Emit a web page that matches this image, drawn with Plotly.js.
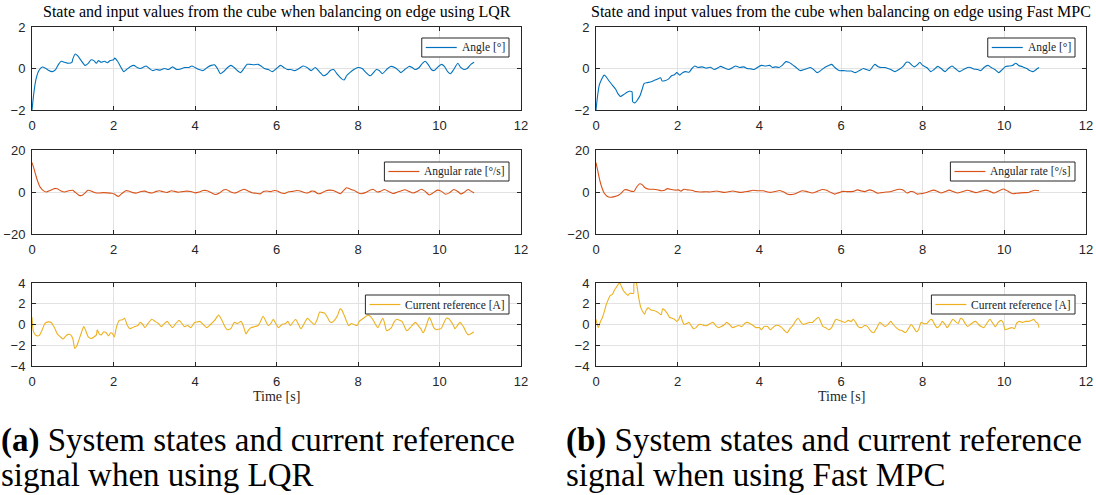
<!DOCTYPE html>
<html>
<head>
<meta charset="utf-8">
<script src="https://cdn.plot.ly/plotly-3.0.1.min.js"></script>
<style>
  html, body { margin: 0; padding: 0; background: #ffffff; }
  #chart { width: 1096px; height: 495px; }
</style>
</head>
<body>
<div id="chart"></div>
<script>
// Logged cube data while balancing on an edge: [time (s), value] samples.

// LQR controller
const lqrAngle = [
  [0,-2.0],[0.05,-1.1],[0.1,-0.5],[0.17,-0.1],[0.25,0.07],[0.32,0.03],[0.4,-0.08],[0.5,-0.15],
  [0.58,-0.05],[0.65,0.2],[0.72,0.35],[0.8,0.3],[0.9,0.25],[0.98,0.3],[1.0,0.45],[1.06,0.7],
  [1.12,0.62],[1.2,0.4],[1.3,0.15],[1.38,0.25],[1.45,0.42],[1.52,0.38],[1.58,0.25],[1.63,0.38],
  [1.7,0.3],[1.78,0.35],[1.85,0.28],[1.92,0.38],[2.0,0.42],[2.03,0.5],[2.1,0.35],[2.17,0.1],
  [2.25,-0.15],[2.32,-0.05],[2.42,0.1],[2.5,0.15],[2.58,0.05],[2.66,0.0],[2.72,0.05],[2.8,0.12],
  [2.88,0.0],[2.96,-0.1],[3.05,-0.05],[3.15,-0.08],[3.25,0.0],[3.35,-0.05],[3.45,0.08],[3.55,-0.05],
  [3.65,-0.02],[3.75,0.05],[3.85,0.05],[3.92,0.12],[4.0,0.05],[4.1,-0.05],[4.2,-0.1],[4.3,0.05],
  [4.4,0.15],[4.48,0.18],[4.55,0.0],[4.62,-0.25],[4.7,-0.15],[4.8,0.05],[4.88,0.15],[4.96,0.05],
  [5.05,-0.12],[5.12,-0.2],[5.2,0.0],[5.28,0.2],[5.35,0.2],[5.45,0.18],[5.55,0.2],[5.62,0.12],
  [5.7,0.0],[5.8,-0.05],[5.9,-0.15],[6.0,0.0],[6.1,0.15],[6.18,0.05],[6.27,-0.05],[6.35,-0.05],
  [6.45,-0.1],[6.55,0.0],[6.65,0.12],[6.75,0.05],[6.85,-0.1],[6.95,0.05],[7.05,-0.15],[7.15,-0.35],
  [7.25,-0.25],[7.32,-0.1],[7.4,-0.05],[7.5,-0.3],[7.6,-0.5],[7.66,-0.55],[7.72,-0.35],[7.8,-0.2],
  [7.9,-0.05],[8.0,0.05],[8.1,0.0],[8.2,-0.2],[8.3,-0.35],[8.38,-0.2],[8.45,-0.05],[8.52,-0.1],
  [8.6,-0.25],[8.7,-0.05],[8.8,0.1],[8.9,0.05],[9.0,-0.1],[9.05,-0.2],[9.15,-0.05],[9.25,0.1],
  [9.33,0.05],[9.4,-0.05],[9.5,0.05],[9.58,0.25],[9.65,0.35],[9.72,0.2],[9.8,-0.05],[9.87,-0.1],
  [9.95,0.05],[10.05,0.2],[10.12,0.1],[10.2,-0.15],[10.27,-0.25],[10.35,-0.05],[10.45,0.25],
  [10.52,0.05],[10.6,-0.05],[10.68,0.0],[10.77,0.2],[10.85,0.3]
];

const lqrRate = [
  [0,14],[0.05,11],[0.1,7.5],[0.15,4.5],[0.2,2.3],[0.27,0.8],[0.35,0.0],[0.45,0.8],[0.55,1.6],
  [0.62,1.5],[0.7,0.6],[0.8,0.0],[0.9,0.6],[1.0,0.8],[1.07,-0.3],[1.15,-1.5],[1.22,-1.7],[1.3,-0.5],
  [1.37,0.8],[1.45,0.5],[1.55,-0.4],[1.65,-0.5],[1.75,-0.3],[1.85,-0.4],[1.95,-0.6],[2.02,-1.0],
  [2.12,-2.1],[2.2,-0.8],[2.3,0.6],[2.37,0.5],[2.47,-0.3],[2.57,-0.5],[2.67,0.2],[2.77,0.4],
  [2.87,-0.3],[2.95,-0.5],[3.05,0.3],[3.13,0.6],[3.22,0.1],[3.32,-0.2],[3.42,0.6],[3.5,0.3],
  [3.6,-0.1],[3.7,0.2],[3.8,0.4],[3.9,0.2],[4.0,-0.4],[4.1,0.0],[4.2,0.7],[4.3,0.6],[4.4,-0.3],
  [4.5,-1.2],[4.6,-0.5],[4.7,1.0],[4.78,1.1],[4.88,0.0],[4.97,-0.5],[5.07,0.2],[5.2,1.3],[5.3,0.5],
  [5.4,-0.4],[5.5,-0.6],[5.6,-0.9],[5.68,0.2],[5.75,0.5],[5.85,0.2],[5.95,0.7],[6.02,0.5],
  [6.12,-0.5],[6.2,-0.7],[6.3,0.1],[6.4,0.3],[6.5,0.7],[6.58,0.5],[6.68,-0.2],[6.76,-0.5],
  [6.86,0.4],[6.93,0.3],[7.02,-0.8],[7.1,-0.6],[7.2,0.5],[7.3,0.9],[7.4,0.7],[7.5,-0.3],[7.57,-0.8],
  [7.65,0.8],[7.72,2.0],[7.8,1.5],[7.9,0.8],[8.0,-0.3],[8.08,-0.8],[8.18,-0.3],[8.3,0.9],[8.37,1.3],
  [8.47,0.0],[8.55,0.3],[8.65,1.2],[8.75,0.3],[8.85,-0.7],[8.95,-0.2],[9.05,0.5],[9.15,1.1],
  [9.25,0.3],[9.35,-0.5],[9.45,0.2],[9.55,1.3],[9.65,0.3],[9.75,-1.4],[9.85,-0.3],[9.95,0.9],
  [10.05,0.3],[10.15,-1.1],[10.25,-0.3],[10.35,1.2],[10.45,0.2],[10.52,-0.9],[10.6,-0.2],
  [10.7,1.2],[10.78,0.3],[10.85,-0.5]
];

const lqrCurrent = [
  [0,0.7],[0.03,-0.6],[0.08,-1.0],[0.13,-1.1],[0.18,-1.05],[0.25,-0.5],[0.32,0.1],[0.4,0.25],
  [0.47,0.2],[0.55,-0.3],[0.62,-0.9],[0.7,-1.2],[0.76,-1.4],[0.82,-1.15],[0.88,-0.95],[0.95,-1.0],
  [1.0,-1.35],[1.05,-2.3],[1.1,-2.05],[1.15,-1.5],[1.22,-0.7],[1.27,-0.2],[1.32,-0.6],[1.38,-1.2],
  [1.45,-1.35],[1.52,-1.2],[1.58,-1.0],[1.6,-0.5],[1.65,-0.9],[1.7,-1.0],[1.76,-0.7],[1.82,-0.8],
  [1.88,-1.1],[1.93,-0.8],[1.98,-0.9],[2.02,-1.2],[2.07,-0.3],[2.14,0.4],[2.22,0.45],[2.27,0.6],
  [2.33,0.0],[2.4,-0.4],[2.47,-0.3],[2.52,-0.2],[2.6,-0.1],[2.65,0.2],[2.72,0.0],[2.77,-0.3],
  [2.85,0.1],[2.94,0.5],[3.02,0.3],[3.1,0.1],[3.17,-0.2],[3.25,0.1],[3.32,0.3],[3.38,0.0],
  [3.45,-0.3],[3.53,0.1],[3.61,0.4],[3.68,0.1],[3.74,-0.2],[3.82,-0.1],[3.9,-0.3],[3.99,0.2],
  [4.06,0.25],[4.12,0.3],[4.2,0.0],[4.29,-0.3],[4.38,0.0],[4.48,0.4],[4.58,0.9],[4.66,0.4],
  [4.72,-0.1],[4.79,-0.5],[4.88,-0.4],[4.96,0.2],[5.05,0.1],[5.13,0.3],[5.2,-0.3],[5.25,-0.9],
  [5.32,-0.5],[5.38,-0.3],[5.47,-0.2],[5.55,-0.1],[5.62,0.4],[5.67,0.8],[5.74,0.3],[5.8,-0.1],
  [5.86,0.1],[5.92,0.5],[5.98,0.1],[6.05,-0.3],[6.13,0.0],[6.22,0.1],[6.28,0.3],[6.34,-0.1],
  [6.4,0.2],[6.47,0.5],[6.53,0.1],[6.6,-0.4],[6.68,0.1],[6.76,0.6],[6.84,0.3],[6.93,0.0],
  [7.0,0.5],[7.06,1.2],[7.12,1.15],[7.18,1.1],[7.25,0.7],[7.3,0.3],[7.35,0.2],[7.42,0.4],
  [7.5,0.9],[7.56,1.5],[7.6,1.4],[7.65,1.0],[7.72,0.3],[7.77,-0.1],[7.84,0.1],[7.9,0.0],
  [7.98,-0.1],[8.03,0.3],[8.1,0.5],[8.17,0.7],[8.24,0.9],[8.3,0.8],[8.36,0.5],[8.43,0.0],
  [8.49,-0.3],[8.55,0.2],[8.61,0.6],[8.66,0.0],[8.7,-0.6],[8.76,-0.5],[8.82,-0.3],[8.88,0.2],
  [8.95,0.5],[9.02,0.4],[9.08,0.3],[9.14,-0.2],[9.2,-0.6],[9.28,-0.3],[9.35,0.0],[9.41,0.2],
  [9.48,-0.1],[9.54,-0.4],[9.6,-0.8],[9.66,-0.3],[9.71,0.3],[9.75,0.7],[9.8,0.3],[9.86,-0.3],
  [9.92,-0.5],[9.98,-0.45],[10.04,-0.4],[10.1,0.1],[10.17,0.6],[10.23,0.55],[10.28,0.3],
  [10.33,0.0],[10.38,-0.4],[10.44,-0.1],[10.5,0.2],[10.55,0.0],[10.6,-0.3],[10.66,-0.8],
  [10.71,-1.0],[10.77,-0.9],[10.84,-0.7]
];

// Fast MPC controller
const mpcAngle = [
  [0,-2.0],[0.04,-1.3],[0.08,-0.8],[0.13,-0.55],[0.2,-0.32],[0.25,-0.4],[0.32,-0.6],[0.4,-0.8],
  [0.48,-1.0],[0.55,-1.25],[0.6,-1.35],[0.68,-1.25],[0.76,-1.15],[0.82,-1.1],[0.88,-1.12],
  [0.9,-1.6],[0.96,-1.65],[1.02,-1.5],[1.08,-1.3],[1.13,-1.0],[1.18,-0.72],[1.25,-0.68],
  [1.33,-0.65],[1.42,-0.58],[1.5,-0.52],[1.58,-0.45],[1.62,-0.6],[1.7,-0.58],[1.78,-0.5],
  [1.85,-0.35],[1.92,-0.3],[1.98,-0.2],[2.05,-0.32],[2.12,-0.2],[2.2,-0.15],[2.28,-0.18],
  [2.35,0.0],[2.42,0.12],[2.5,0.05],[2.6,0.08],[2.7,0.02],[2.8,0.06],[2.9,-0.05],[3.0,0.05],
  [3.05,0.1],[3.15,0.02],[3.25,-0.05],[3.35,0.05],[3.42,0.12],[3.52,0.05],[3.62,0.08],[3.7,0.0],
  [3.8,-0.02],[3.87,-0.05],[3.95,0.05],[4.05,0.15],[4.15,0.12],[4.25,0.15],[4.32,0.05],[4.4,0.08],
  [4.48,0.05],[4.56,0.15],[4.65,0.33],[4.72,0.3],[4.8,0.2],[4.9,0.05],[5.0,-0.1],[5.1,-0.05],
  [5.2,0.02],[5.25,0.05],[5.33,-0.05],[5.42,-0.2],[5.5,-0.1],[5.6,0.05],[5.7,0.15],[5.77,0.2],
  [5.85,0.05],[5.95,-0.1],[6.05,-0.1],[6.15,-0.12],[6.25,-0.12],[6.35,-0.2],[6.45,-0.1],[6.55,0.0],
  [6.62,-0.05],[6.7,-0.1],[6.78,0.1],[6.83,0.2],[6.9,0.1],[6.98,0.05],[7.08,0.05],[7.15,0.0],
  [7.22,-0.05],[7.32,-0.15],[7.42,-0.05],[7.52,0.1],[7.6,0.3],[7.66,0.3],[7.74,0.15],[7.8,0.08],
  [7.88,0.2],[7.93,0.3],[8.0,0.15],[8.1,0.05],[8.2,-0.15],[8.28,-0.05],[8.37,0.1],[8.45,0.0],
  [8.55,-0.15],[8.63,0.0],[8.72,0.12],[8.8,0.0],[8.9,-0.15],[9.0,-0.05],[9.1,0.05],[9.17,0.05],
  [9.25,-0.02],[9.35,-0.05],[9.42,-0.1],[9.5,0.05],[9.6,0.15],[9.68,0.05],[9.77,-0.05],[9.86,-0.2],
  [9.95,-0.05],[10.03,0.1],[10.12,0.12],[10.2,0.15],[10.28,0.25],[10.35,0.15],[10.45,0.08],
  [10.55,0.0],[10.62,-0.1],[10.7,-0.15],[10.78,-0.05],[10.85,0.05]
];

const mpcRate = [
  [0,14],[0.05,9.5],[0.1,5],[0.15,1.8],[0.2,-0.5],[0.27,-2.0],[0.35,-2.5],[0.45,-2.2],[0.55,-1.5],
  [0.62,-0.5],[0.7,1.1],[0.77,1.0],[0.85,0.4],[0.93,0.3],[1.0,2.5],[1.07,3.9],[1.13,3.5],[1.2,2.0],
  [1.3,1.3],[1.4,1.3],[1.5,1.1],[1.6,0.6],[1.68,0.8],[1.75,1.6],[1.85,1.2],[1.95,0.9],[2.02,1.0],
  [2.08,0.4],[2.15,1.3],[2.25,1.0],[2.35,0.8],[2.45,0.2],[2.55,0.0],[2.7,0.1],[2.8,0.0],[2.95,0.5],
  [3.05,0.1],[3.15,-0.2],[3.35,0.5],[3.45,0.1],[3.55,-0.2],[3.7,0.2],[3.85,0.8],[3.95,0.6],
  [4.1,0.6],[4.2,0.0],[4.27,-0.2],[4.38,0.2],[4.5,0.7],[4.6,0.0],[4.7,-1.1],[4.8,-1.2],[4.88,-0.8],
  [4.97,0.0],[5.05,0.6],[5.15,0.3],[5.3,-0.5],[5.42,0.3],[5.55,1.2],[5.65,0.8],[5.75,-0.2],
  [5.85,-1.0],[5.95,-0.3],[6.05,0.3],[6.15,0.2],[6.3,0.3],[6.4,1.0],[6.5,0.5],[6.58,0.2],[6.7,1.0],
  [6.78,0.6],[6.9,-0.6],[7.0,-0.3],[7.1,0.0],[7.2,0.1],[7.3,0.7],[7.42,1.3],[7.52,1.0],[7.62,-0.5],
  [7.7,0.2],[7.77,0.1],[7.87,-1.0],[7.95,-0.8],[8.05,-0.5],[8.15,0.2],[8.27,0.9],[8.37,0.2],
  [8.45,-0.5],[8.55,0.2],[8.65,0.9],[8.75,0.2],[8.85,-0.5],[8.95,0.0],[9.1,0.8],[9.2,0.3],
  [9.3,-0.3],[9.42,0.3],[9.55,0.9],[9.65,0.3],[9.75,-0.5],[9.85,0.4],[9.97,1.4],[10.05,0.8],
  [10.15,-0.3],[10.22,-0.8],[10.3,-0.6],[10.4,-0.4],[10.5,-0.3],[10.6,-0.2],[10.68,0.5],
  [10.75,0.8],[10.85,0.6]
];

const mpcCurrent = [
  [0,0.5],[0.03,0.0],[0.06,-0.3],[0.1,0.2],[0.15,0.6],[0.2,1.2],[0.25,1.9],[0.3,2.4],[0.35,2.8],
  [0.4,2.9],[0.45,3.3],[0.5,3.6],[0.55,3.9],[0.58,4.0],[0.62,3.7],[0.68,3.2],[0.73,3.0],[0.78,2.8],
  [0.82,3.0],[0.88,3.0],[0.92,3.0],[0.93,4.0],[0.97,4.3],[1.0,3.8],[1.05,2.5],[1.1,1.6],[1.15,1.2],
  [1.19,1.0],[1.23,1.4],[1.28,1.6],[1.35,1.4],[1.42,1.35],[1.5,1.2],[1.57,1.0],[1.6,0.95],
  [1.63,1.5],[1.68,1.4],[1.74,1.1],[1.8,0.7],[1.86,0.6],[1.92,0.5],[1.98,0.3],[2.03,0.5],
  [2.07,0.9],[2.11,0.4],[2.16,0.0],[2.22,0.1],[2.28,0.2],[2.33,-0.1],[2.39,-0.4],[2.45,-0.3],
  [2.52,0.0],[2.58,0.0],[2.65,-0.1],[2.72,-0.1],[2.8,0.1],[2.87,0.2],[2.93,-0.1],[3.0,-0.3],
  [3.07,-0.2],[3.15,0.0],[3.2,0.2],[3.27,0.0],[3.34,-0.3],[3.42,-0.2],[3.5,-0.1],[3.57,-0.2],
  [3.64,0.1],[3.7,0.2],[3.77,0.1],[3.85,-0.1],[3.92,-0.3],[4.0,-0.3],[4.05,-0.5],[4.12,-0.2],
  [4.2,-0.2],[4.27,-0.5],[4.33,-0.3],[4.4,-0.1],[4.47,-0.1],[4.55,-0.3],[4.62,-0.6],[4.68,-0.8],
  [4.75,-0.4],[4.82,-0.1],[4.88,0.3],[4.95,0.6],[5.02,0.2],[5.08,0.0],[5.15,0.1],[5.22,0.2],
  [5.3,0.2],[5.38,0.5],[5.45,0.7],[5.5,0.3],[5.56,-0.2],[5.62,-0.3],[5.7,-0.5],[5.77,-0.3],
  [5.83,0.2],[5.88,0.5],[5.95,0.4],[6.02,0.3],[6.1,0.2],[6.18,0.4],[6.25,0.3],[6.3,0.5],
  [6.36,0.2],[6.42,-0.2],[6.5,-0.3],[6.58,-0.1],[6.65,-0.2],[6.72,-0.6],[6.8,-0.8],[6.88,-0.3],
  [6.95,0.2],[7.02,0.0],[7.08,-0.2],[7.15,0.0],[7.22,0.3],[7.28,0.0],[7.35,-0.3],[7.42,-0.5],
  [7.5,-0.6],[7.58,-0.8],[7.65,-0.4],[7.72,0.0],[7.78,-0.3],[7.85,-0.7],[7.9,-0.5],[7.96,0.2],
  [8.02,0.1],[8.1,0.1],[8.17,0.4],[8.22,0.5],[8.28,0.1],[8.35,-0.3],[8.42,-0.1],[8.48,0.3],
  [8.55,0.0],[8.6,-0.3],[8.67,0.1],[8.74,0.5],[8.8,0.3],[8.87,0.1],[8.93,0.6],[8.98,0.5],
  [9.04,0.1],[9.1,-0.2],[9.17,0.0],[9.23,0.2],[9.3,0.3],[9.37,0.0],[9.43,-0.2],[9.5,-0.3],
  [9.57,0.1],[9.65,0.5],[9.72,0.1],[9.78,-0.2],[9.85,0.2],[9.92,0.4],[9.97,0.2],[10.02,-0.5],
  [10.1,-0.4],[10.18,-0.3],[10.25,-0.4],[10.3,0.1],[10.37,0.3],[10.45,0.2],[10.52,0.3],
  [10.6,0.3],[10.67,0.4],[10.72,0.5],[10.78,0.2],[10.82,0.1],[10.85,-0.3]
];

const seriesNames = ['Angle [°]', 'Angular rate [°/s]', 'Current reference [A]'];
const seriesColors = ['#0072BD', '#D95319', '#EDB120'];
const yRanges = [[-2, 2], [-20, 20], [-4, 4]];
const yTicks = [2, 20, 2];
const panelTitles = [
  'State and input values from the cube when balancing on edge using LQR',
  'State and input values from the cube when balancing on edge using Fast MPC'
];
const captions = [
  ['<b>(a)</b> System states and current reference', 'signal when using LQR'],
  ['<b>(b)</b> System states and current reference', 'signal when using Fast MPC']
];

// Page geometry (pixels)
const W = 1096, H = 495;
const colPx = [[32, 521], [596, 1086]];
const rowPx = [[27, 110], [150, 234], [283, 366]];
const legendTopPx = [38, 162, 295];
const legendHeightPx = 19;
const legendRightPx = [509, 1075];
const captionLeftPx = [0, 565];
const captionMidPx = [440, 475];

const serif = 'Liberation Serif, Times New Roman, serif';
const sans = 'Liberation Sans, Arial, Helvetica, sans-serif';
const axisInk = '#262626';
const legendFontSize = 11.5;
const captionFontSize = 33;

const px2x = p => p / W;
const px2y = p => 1 - p / H;

// Width of a legend label, so each boxed key can hug its text
const measureCtx = document.createElement('canvas').getContext('2d');
measureCtx.font = legendFontSize + 'px "Liberation Serif", "Times New Roman", serif';
const textWidth = s => measureCtx.measureText(s).width;

const columns = [[lqrAngle, lqrRate, lqrCurrent], [mpcAngle, mpcRate, mpcCurrent]];

const traces = [];
const layout = {
  width: W, height: H,
  margin: { l: 0, r: 0, t: 0, b: 0 },
  paper_bgcolor: '#ffffff',
  plot_bgcolor: '#ffffff',
  showlegend: false,
  annotations: [],
  shapes: []
};

let k = 0;
for (let c = 0; c < 2; c++) {
  for (let r = 0; r < 3; r++) {
    k++;
    const sfx = k === 1 ? '' : String(k);
    const data = columns[c][r];
    traces.push({
      type: 'scatter', mode: 'lines',
      x: data.map(p => p[0]),
      y: data.map(p => p[1]),
      name: seriesNames[r],
      line: { color: seriesColors[r], width: 1.1, shape: 'spline', smoothing: 0.6 },
      xaxis: 'x' + sfx, yaxis: 'y' + sfx,
      hoverinfo: 'skip'
    });

    const common = {
      ticks: 'inside', ticklen: 4, tickwidth: 1, tickcolor: axisInk,
      showline: true, linecolor: axisInk, linewidth: 1, mirror: 'ticks',
      showgrid: true, gridcolor: '#e2e2e2', gridwidth: 1,
      zeroline: false, fixedrange: true,
      tickfont: { family: sans, size: 13, color: axisInk },
      ticklabelstandoff: 3
    };
    layout['xaxis' + sfx] = Object.assign({}, common, {
      domain: [px2x(colPx[c][0]), px2x(colPx[c][1])],
      anchor: 'y' + sfx,
      range: [0, 12], tick0: 0, dtick: 2
    });
    layout['yaxis' + sfx] = Object.assign({}, common, {
      domain: [px2y(rowPx[r][1]), px2y(rowPx[r][0])],
      anchor: 'x' + sfx,
      range: yRanges[r], tick0: yRanges[r][0], dtick: yTicks[r]
    });

    // Boxed key in the upper-right corner of each panel
    const right = legendRightPx[c];
    const top = legendTopPx[r];
    const bottom = top + legendHeightPx;
    const mid = (top + bottom) / 2;
    const tw = textWidth(seriesNames[r]);
    const textLeft = right - 5 - tw;
    const lineRight = textLeft - 4;
    const lineLeft = lineRight - 31;
    const left = lineLeft - 4;
    layout.shapes.push({
      type: 'rect', xref: 'paper', yref: 'paper',
      x0: px2x(left), x1: px2x(right), y0: px2y(bottom), y1: px2y(top),
      fillcolor: '#ffffff', line: { color: axisInk, width: 1 }, layer: 'above'
    });
    layout.shapes.push({
      type: 'line', xref: 'paper', yref: 'paper',
      x0: px2x(lineLeft), x1: px2x(lineRight), y0: px2y(mid), y1: px2y(mid),
      line: { color: seriesColors[r], width: 1.2 }, layer: 'above'
    });
    layout.annotations.push({
      xref: 'paper', yref: 'paper', x: px2x(textLeft), y: px2y(mid),
      xanchor: 'left', yanchor: 'middle', showarrow: false,
      borderpad: 0, text: seriesNames[r],
      font: { family: serif, size: legendFontSize, color: '#222222' }
    });
  }

  const cx = (colPx[c][0] + colPx[c][1]) / 2;
  layout.annotations.push({
    xref: 'paper', yref: 'paper', x: px2x(cx), y: px2y(12),
    xanchor: 'center', yanchor: 'middle', showarrow: false,
    text: panelTitles[c],
    font: { family: serif, size: 16, color: '#000000' }
  });
  layout.annotations.push({
    xref: 'paper', yref: 'paper', x: px2x(cx), y: px2y(396),
    xanchor: 'center', yanchor: 'middle', showarrow: false,
    text: 'Time [s]',
    font: { family: serif, size: 14, color: axisInk }
  });
  for (let line = 0; line < 2; line++) {
    layout.annotations.push({
      xref: 'paper', yref: 'paper',
      x: px2x(captionLeftPx[c]), y: px2y(captionMidPx[line]),
      xanchor: 'left', yanchor: 'middle', showarrow: false, borderpad: 0,
      text: captions[c][line],
      font: { family: serif, size: captionFontSize, color: '#000000' }
    });
  }
}

Plotly.newPlot('chart', traces, layout, { displayModeBar: false, staticPlot: true });
</script>
</body>
</html>
